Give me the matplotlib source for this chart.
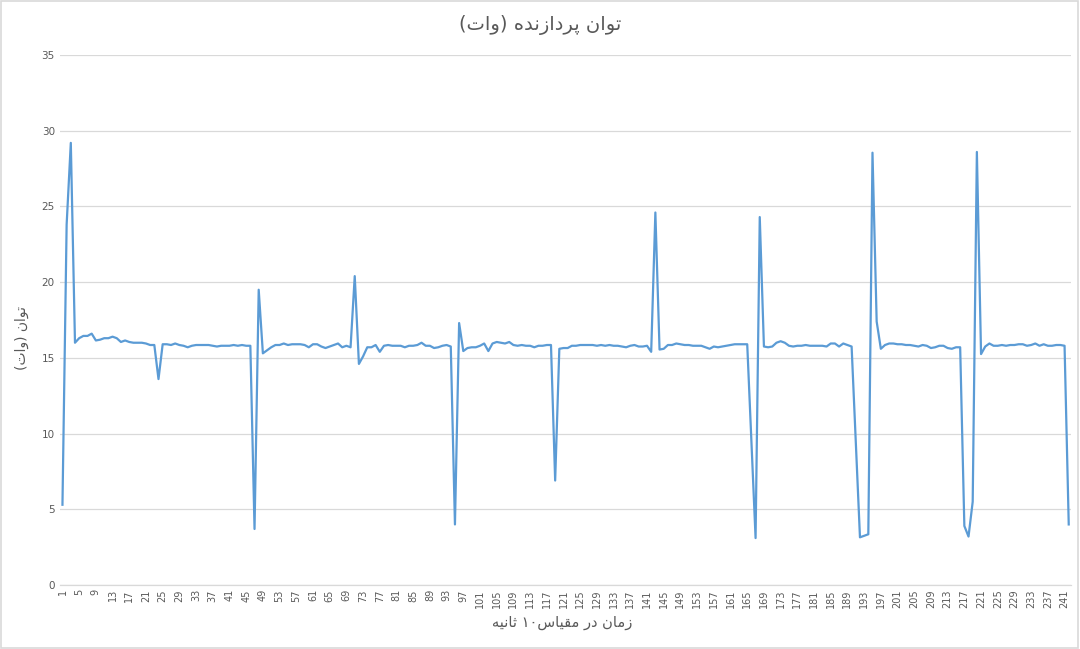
import re
import matplotlib.pyplot as plt
from matplotlib.patches import Rectangle

# Arabic presentation forms: isolated, final, initial, medial
FORMS = {
    'ا': ('\uFE8D', '\uFE8E', None, None),
    'د': ('\uFEA9', '\uFEAA', None, None),
    'ر': ('\uFEAD', '\uFEAE', None, None),
    'ز': ('\uFEAF', '\uFEB0', None, None),
    'و': ('\uFEED', '\uFEEE', None, None),
    'ت': ('\uFE95', '\uFE96', '\uFE97', '\uFE98'),
    'ث': ('\uFE99', '\uFE9A', '\uFE9B', '\uFE9C'),
    'س': ('\uFEB1', '\uFEB2', '\uFEB3', '\uFEB4'),
    'ق': ('\uFED5', '\uFED6', '\uFED7', '\uFED8'),
    'م': ('\uFEE1', '\uFEE2', '\uFEE3', '\uFEE4'),
    'ن': ('\uFEE5', '\uFEE6', '\uFEE7', '\uFEE8'),
    'ه': ('\uFEE9', '\uFEEA', '\uFEEB', '\uFEEC'),
    'پ': ('\uFB56', '\uFB57', '\uFB58', '\uFB59'),
    'ی': ('\uFBFC', '\uFBFD', '\uFBFE', '\uFBFF'),
}


def rtl(text):
    out = []
    for i, c in enumerate(text):
        if c not in FORMS:
            out.append(c)
            continue
        iso, fin, ini, med = FORMS[c]
        prev = text[i - 1] if i > 0 else ''
        nxt = text[i + 1] if i + 1 < len(text) else ''
        join_prev = prev in FORMS and FORMS[prev][2] is not None
        join_next = ini is not None and nxt in FORMS
        if join_prev and join_next:
            out.append(med)
        elif join_prev:
            out.append(fin)
        elif join_next:
            out.append(ini)
        else:
            out.append(iso)
    tokens = re.findall(r'[0-9\u06F0-\u06F9]+|.', ''.join(out))
    mirror = {'(': ')', ')': '('}
    return ''.join(mirror.get(t, t) for t in reversed(tokens))


title = 'توان پردازنده (وات)'
y_label = 'توان (وات)'
x_label = 'زمان در مقیاس۱۰ ثانیه'

power = [
    5.3, 23.8, 29.2, 16.0, 16.3, 16.45, 16.45, 16.6, 16.15, 16.2,
    16.3, 16.3, 16.4, 16.3, 16.05, 16.15, 16.05, 16.0, 16.0, 16.0,
    15.95, 15.85, 15.85, 13.6, 15.9, 15.9, 15.85, 15.95, 15.85, 15.8,
    15.7, 15.8, 15.85, 15.85, 15.85, 15.85, 15.8, 15.75, 15.8, 15.8,
    15.8, 15.85, 15.8, 15.85, 15.8, 15.8, 3.7, 19.5, 15.3, 15.5,
    15.7, 15.85, 15.85, 15.95, 15.85, 15.9, 15.9, 15.9, 15.85, 15.7,
    15.9, 15.9, 15.75, 15.65, 15.75, 15.85, 15.95, 15.7, 15.8, 15.7,
    20.4, 14.6, 15.1, 15.7, 15.7, 15.85, 15.4, 15.8, 15.85, 15.8,
    15.8, 15.8, 15.7, 15.8, 15.8, 15.85, 16.0, 15.8, 15.8, 15.65,
    15.7, 15.8, 15.85, 15.75, 4.0, 17.3, 15.45, 15.65, 15.7, 15.7,
    15.8, 15.95, 15.45, 15.95, 16.05, 16.0, 15.95, 16.05, 15.85, 15.8,
    15.85, 15.8, 15.8, 15.7, 15.8, 15.8, 15.85, 15.85, 6.9, 15.6,
    15.65, 15.65, 15.8, 15.8, 15.85, 15.85, 15.85, 15.85, 15.8, 15.85,
    15.8, 15.85, 15.8, 15.8, 15.75, 15.7, 15.8, 15.85, 15.75, 15.75,
    15.8, 15.4, 24.6, 15.55, 15.6, 15.85, 15.85, 15.95, 15.9, 15.85,
    15.85, 15.8, 15.8, 15.8, 15.7, 15.6, 15.75, 15.7, 15.75, 15.8,
    15.85, 15.9, 15.9, 15.9, 15.9, 9.5, 3.1, 24.3, 15.75, 15.7,
    15.75, 16.0, 16.1, 16.0, 15.8, 15.75, 15.8, 15.8, 15.85, 15.8,
    15.8, 15.8, 15.8, 15.75, 15.95, 15.95, 15.75, 15.95, 15.85, 15.75,
    9.5, 3.15, 3.25, 3.35, 28.55, 17.4, 15.6, 15.85, 15.95, 15.95,
    15.9, 15.9, 15.85, 15.85, 15.8, 15.75, 15.85, 15.8, 15.65, 15.7,
    15.8, 15.8, 15.65, 15.6, 15.7, 15.7, 3.9, 3.2, 5.5, 28.6,
    15.25, 15.75, 15.95, 15.8, 15.8, 15.85, 15.8, 15.85, 15.85, 15.9,
    15.9, 15.8, 15.85, 15.95, 15.8, 15.9, 15.8, 15.8, 15.85, 15.85,
    15.8, 4.0,
]
time_idx = list(range(1, len(power) + 1))
x_ticks = list(range(1, len(power) + 1, 4))
y_ticks = list(range(0, 36, 5))

plt.rcParams['font.family'] = ['DejaVu Sans']
text_color = '#595959'
grid_color = '#d9d9d9'

fig = plt.figure(figsize=(10.8, 6.49), dpi=100)
ax = fig.add_axes([0.0559, 0.0986, 0.9356, 0.8166])

ax.plot(time_idx, power, color='#5B9BD5', linewidth=1.6, solid_joinstyle='round')

ax.set_xlim(0.5, len(power) + 0.5)
ax.set_ylim(0, 35)
ax.set_xticks(x_ticks)
ax.set_xticklabels([str(t) for t in x_ticks], rotation=90, fontsize=7, color=text_color)
ax.set_yticks(y_ticks)
ax.set_yticklabels([str(t) for t in y_ticks], fontsize=7.5, color=text_color)
ax.tick_params(axis='both', length=0, pad=4)
ax.tick_params(axis='x', pad=3)

ax.grid(axis='y', color=grid_color, linewidth=0.9)
ax.set_axisbelow(True)
for side in ['top', 'right', 'left']:
    ax.spines[side].set_visible(False)
ax.spines['bottom'].set_color(grid_color)
ax.spines['bottom'].set_linewidth(0.9)

fig.text(0.5, 1 - 25 / 649, rtl(title), ha='center', va='center', fontsize=14, color=text_color)
fig.text(22 / 1080, 1 - 338 / 649, rtl(y_label), ha='center', va='center', rotation=90,
         fontsize=10, color=text_color)
fig.text(562 / 1080, 1 - 623 / 649, rtl(x_label), ha='center', va='center', fontsize=10.5,
         color=text_color)

fig.patches.append(Rectangle((0.001, 0.001), 0.997, 0.997, transform=fig.transFigure,
                             fill=False, edgecolor=grid_color, linewidth=1.2))

plt.savefig('out.png', dpi=100)
